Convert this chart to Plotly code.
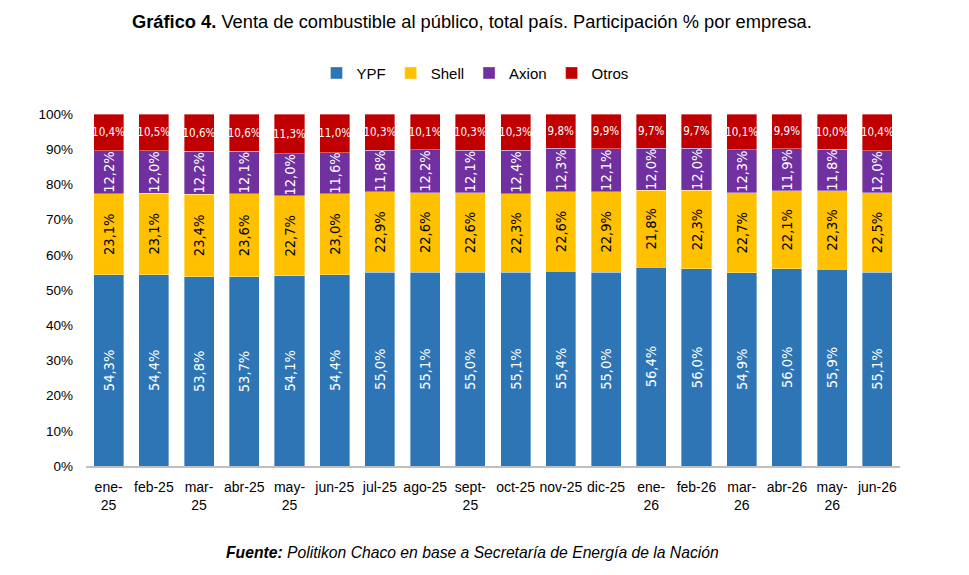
import plotly.graph_objects as go

months = ["ene-<br>25", "feb-25", "mar-<br>25", "abr-25", "may-<br>25", "jun-25", "jul-25", "ago-25",
          "sept-<br>25", "oct-25", "nov-25", "dic-25", "ene-<br>26", "feb-26", "mar-<br>26", "abr-26",
          "may-<br>26", "jun-26"]
ypf = [54.3, 54.4, 53.8, 53.7, 54.1, 54.4, 55.0, 55.1, 55.0, 55.1, 55.4, 55.0, 56.4, 56.0, 54.9, 56.0, 55.9, 55.1]
shell = [23.1, 23.1, 23.4, 23.6, 22.7, 23.0, 22.9, 22.6, 22.6, 22.3, 22.6, 22.9, 21.8, 22.3, 22.7, 22.1, 22.3, 22.5]
axion = [12.2, 12.0, 12.2, 12.1, 12.0, 11.6, 11.8, 12.2, 12.1, 12.4, 12.3, 12.1, 12.0, 12.0, 12.3, 11.9, 11.8, 12.0]
otros = [10.4, 10.5, 10.6, 10.6, 11.3, 11.0, 10.3, 10.1, 10.3, 10.3, 9.8, 9.9, 9.7, 9.7, 10.1, 9.9, 10.0, 10.4]
yticks = [0, 10, 20, 30, 40, 50, 60, 70, 80, 90, 100]

def fmt(vals):
    return [f"{v:.1f}%".replace(".", ",") for v in vals]

x = list(range(len(months)))
series = [
    ("YPF", ypf, "#2E75B6", "white", -90, 14.5),
    ("Shell", shell, "#FFC000", "black", -90, 14.5),
    ("Axion", axion, "#7030A0", "white", -90, 14.5),
    ("Otros", otros, "#C00000", "white", 0, 11.5),
]

fig = go.Figure()
for name, vals, col, tcol, ang, fs in series:
    fig.add_trace(go.Bar(
        x=x, y=vals, name=name,
        marker=dict(color=col, line=dict(color="rgba(255,255,255,0.6)", width=0.6)),
        text=fmt(vals), textposition="inside", insidetextanchor="middle",
        textangle=ang, constraintext="none",
        textfont=dict(color=tcol, size=fs, family="DejaVu Sans Condensed, DejaVu Sans, sans-serif"),
    ))

FONT = "Liberation Sans, Arial, sans-serif"

fig.update_layout(
    barmode="stack", barnorm="percent", bargap=0.335,
    width=969, height=575,
    margin=dict(l=86, r=69, t=114, b=109),
    paper_bgcolor="white", plot_bgcolor="white",
    font=dict(family=FONT, size=13, color="black"),
    showlegend=True,
    legend=dict(orientation="h", x=(475 - 86) / 814, xanchor="center", y=1.116, yanchor="middle",
                font=dict(size=15, family=FONT), traceorder="normal", itemwidth=30),
    xaxis=dict(tickmode="array", tickvals=x, ticktext=months, range=[-0.5, len(months) - 0.5],
               showline=True, linecolor="#BFBFBF", linewidth=1.5, ticks="",
               ticklabelstandoff=7,
               tickfont=dict(size=14, family=FONT), showgrid=False, tickangle=0),
    yaxis=dict(range=[0, 100], tickvals=yticks, ticktext=[f"{v}%" for v in yticks],
               showgrid=False, zeroline=False, showline=False, ticks="",
               ticklabelstandoff=12,
               tickfont=dict(size=13.5, family=FONT)),
    annotations=[
        dict(text="<b>Gráfico 4.</b> Venta de combustible al público, total país. Participación % por empresa.",
             xref="paper", yref="paper", x=(472 - 86) / 814, y=(466 - 22) / 352,
             xanchor="center", yanchor="middle", showarrow=False,
             font=dict(size=18.3, family=FONT, color="black")),
        dict(text="<b><i>Fuente:</i></b><i> Politikon Chaco en base a Secretaría de Energía de la Nación</i>",
             xref="paper", yref="paper", x=(472 - 86) / 814, y=(466 - 552) / 352,
             xanchor="center", yanchor="middle", showarrow=False,
             font=dict(size=15.7, family=FONT, color="black")),
    ],
)

fig.write_html("out.html")
